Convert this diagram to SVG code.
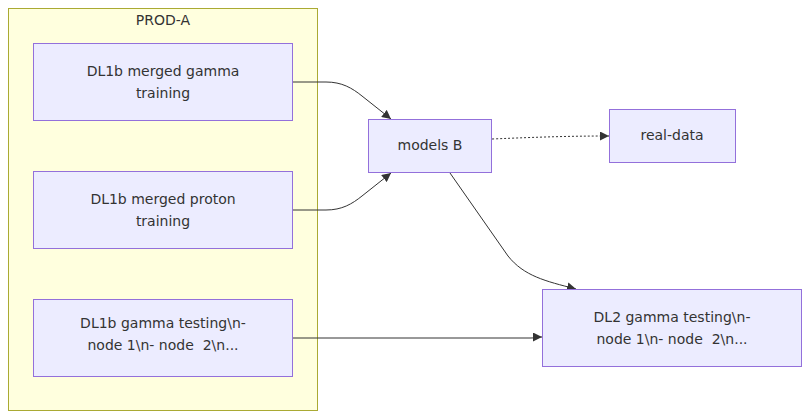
<svg xmlns="http://www.w3.org/2000/svg" width="811" height="420" viewBox="0 0 811 420">
<style>
.cluster{fill:#ffffde;stroke:#aaaa33;stroke-width:1}
.node rect{fill:#ececff;stroke:#9370db;stroke-width:1}
text{font-family:"DejaVu Sans",Verdana,sans-serif;font-size:14px;fill:#333;text-anchor:middle;white-space:pre}
.edge{fill:none;stroke:#333;stroke-width:1}
.dotted{stroke-dasharray:2 2}
</style>
<defs>
<marker id="arrow" viewBox="0 0 10 10" refX="10" refY="5" markerUnits="userSpaceOnUse" markerWidth="9" markerHeight="9" orient="auto">
<path d="M0,0 L10,5 L0,10 z" fill="#333"/>
</marker>
</defs>
<g id="cluster-PROD-A">
<rect class="cluster" x="8.5" y="8.5" width="309" height="402"/>
<text x="163" y="25">PROD-A</text>
</g>
<g id="connectors">
<path class="edge" d="M293,82 L326,82 C342,82 352,88 362,96 L391,119" marker-end="url(#arrow)"/>
<path class="edge" d="M293,210 L326,210 C342,210 352,204 362,196 L391,173" marker-end="url(#arrow)"/>
<path class="edge" d="M450,173 L508,256 C524,276 545,281 576,289" marker-end="url(#arrow)"/>
<path class="edge" d="M293,338 L530,338 C536,338 538,337 542,337" marker-end="url(#arrow)"/>
<path class="edge dotted" d="M492,139 C540,137 570,136 609,136" marker-end="url(#arrow)"/>
</g>
<g id="node-gamma-training" class="node">
<rect x="33.5" y="43.5" width="259" height="77"/>
<text x="163" y="76">DL1b merged gamma</text>
<text x="163" y="98">training</text>
</g>
<g id="node-proton-training" class="node">
<rect x="33.5" y="171.5" width="259" height="77"/>
<text x="163" y="204">DL1b merged proton</text>
<text x="163" y="226">training</text>
</g>
<g id="node-gamma-testing" class="node">
<rect x="33.5" y="299.5" width="259" height="77"/>
<text x="163" y="328">DL1b gamma testing\n-</text>
<text x="163" y="350" xml:space="preserve">node 1\n- node  2\n...</text>
</g>
<g id="node-models-B" class="node">
<rect x="368.5" y="119.5" width="123" height="53"/>
<text x="430" y="150">models B</text>
</g>
<g id="node-real-data" class="node">
<rect x="609.5" y="109.5" width="126" height="53"/>
<text x="672" y="140">real-data</text>
</g>
<g id="node-dl2-testing" class="node">
<rect x="542.5" y="289.5" width="259" height="77"/>
<text x="672" y="322">DL2 gamma testing\n-</text>
<text x="672" y="344" xml:space="preserve">node 1\n- node  2\n...</text>
</g>
</svg>
